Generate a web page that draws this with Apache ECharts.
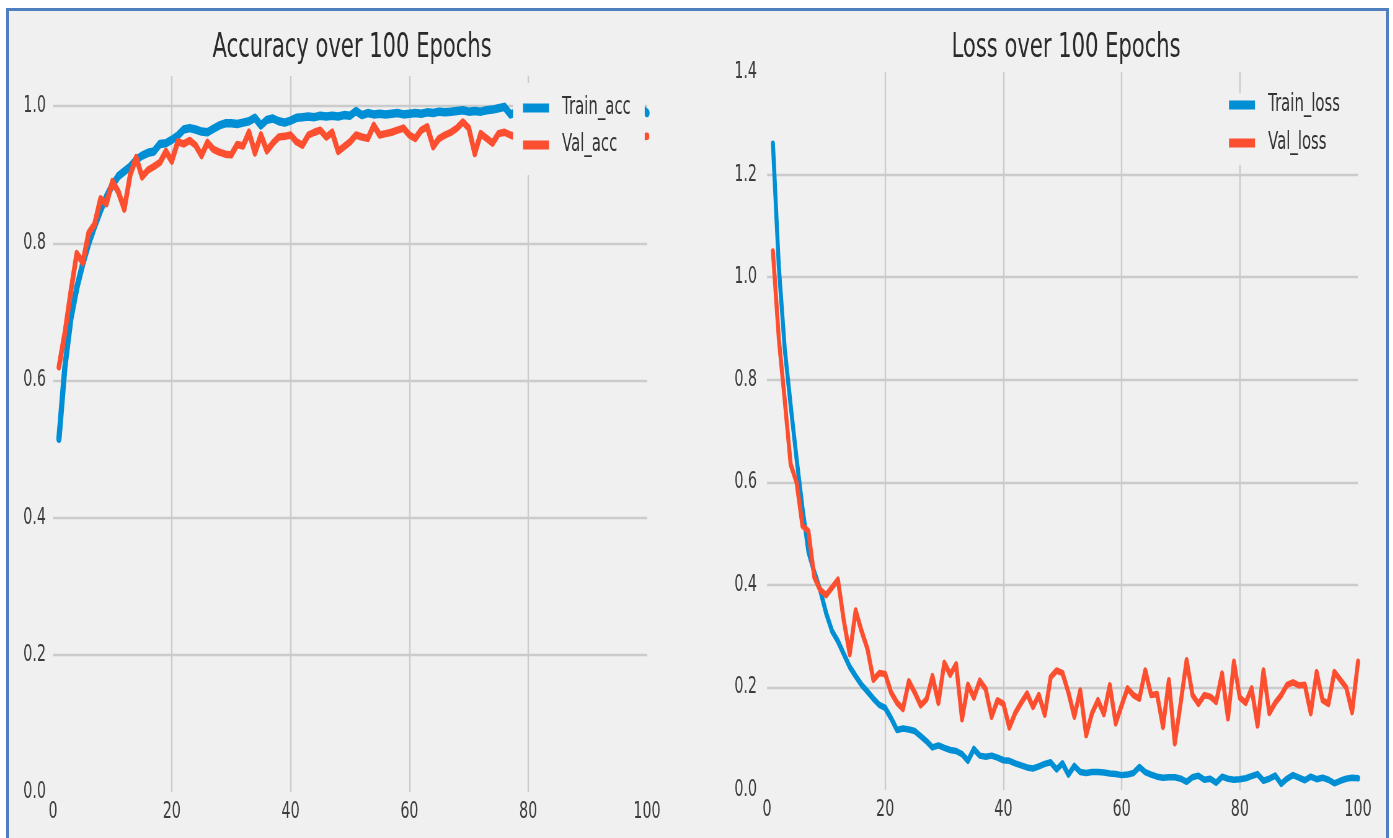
<!DOCTYPE html>
<html>
<head>
<meta charset="utf-8">
<script src="https://cdn.jsdelivr.net/npm/echarts@6/dist/echarts.min.js"></script>
<style>
  html, body { margin: 0; padding: 0; width: 1393px; height: 838px; overflow: hidden; background: #ffffff; }
  #frame { position: absolute; left: 6px; top: 8px; width: 1377px; height: 850px;
           border: 3px solid #4f7fbf; background: #f0f0f0; }
  #chart { position: absolute; left: 0; top: 0; height: 838px; transform-origin: 0 0; }
</style>
</head>
<body>
<div id="frame"></div>
<div id="chart"></div>
<script>
// Training history, one value per epoch (epochs 1..100)
const trainAcc = [
  0.515, 0.62, 0.69, 0.735, 0.77, 0.80, 0.825, 0.848, 0.868, 0.885,
  0.898, 0.905, 0.912, 0.922, 0.928, 0.932, 0.934, 0.945, 0.946, 0.951,
  0.957, 0.966, 0.968, 0.966, 0.963, 0.962, 0.967, 0.972, 0.975, 0.975,
  0.974, 0.976, 0.978, 0.983, 0.972, 0.980, 0.982, 0.978, 0.976, 0.979,
  0.983, 0.984, 0.985, 0.984, 0.986, 0.985, 0.986, 0.985, 0.987, 0.986,
  0.993, 0.987, 0.990, 0.988, 0.989, 0.988, 0.989, 0.990, 0.988, 0.989,
  0.990, 0.989, 0.991, 0.990, 0.992, 0.991, 0.992, 0.993, 0.994, 0.992,
  0.993, 0.992, 0.994, 0.995, 0.997, 0.999, 0.988, 0.991, 0.993, 0.994,
  0.992, 0.995, 0.994, 0.996, 0.993, 0.995, 0.996, 0.994, 0.997, 0.995,
  0.996, 0.997, 0.995, 0.996, 0.998, 0.996, 0.997, 0.995, 0.998, 0.990
];
const valAcc = [
  0.62, 0.67, 0.73, 0.785, 0.772, 0.815, 0.828, 0.865, 0.858, 0.89,
  0.875, 0.85, 0.90, 0.925, 0.897, 0.907, 0.912, 0.918, 0.934, 0.92,
  0.948, 0.945, 0.95, 0.943, 0.928, 0.947, 0.937, 0.933, 0.93, 0.929,
  0.944, 0.942, 0.962, 0.932, 0.958, 0.935, 0.946, 0.955, 0.956, 0.958,
  0.948, 0.943, 0.958, 0.962, 0.965, 0.955, 0.962, 0.934, 0.941, 0.948,
  0.958, 0.955, 0.953, 0.972, 0.958, 0.96, 0.962, 0.965, 0.968, 0.958,
  0.953, 0.965, 0.97, 0.941, 0.953, 0.958, 0.962, 0.968, 0.977, 0.968,
  0.931, 0.96, 0.953, 0.946, 0.96, 0.962, 0.958, 0.955, 0.962, 0.95,
  0.958, 0.965, 0.952, 0.96, 0.948, 0.963, 0.958, 0.966, 0.954, 0.961,
  0.957, 0.95, 0.964, 0.959, 0.962, 0.953, 0.96, 0.958, 0.955, 0.956
];
const trainLoss = [
  1.26, 1.02, 0.86, 0.75, 0.646, 0.55, 0.465, 0.425, 0.39, 0.345,
  0.31, 0.29, 0.265, 0.24, 0.222, 0.205, 0.192, 0.178, 0.166, 0.16,
  0.14, 0.117, 0.12, 0.118, 0.115, 0.105, 0.095, 0.083, 0.087, 0.082,
  0.078, 0.076, 0.07, 0.057, 0.08, 0.067, 0.065, 0.067, 0.063, 0.058,
  0.057, 0.052, 0.048, 0.044, 0.042, 0.046, 0.051, 0.054, 0.04, 0.052,
  0.03, 0.047, 0.035, 0.033, 0.035, 0.035, 0.034, 0.032, 0.031, 0.029,
  0.03, 0.033, 0.045, 0.035, 0.03, 0.026, 0.024, 0.025, 0.025, 0.022,
  0.016, 0.025, 0.028, 0.02, 0.022, 0.014, 0.026, 0.022, 0.02, 0.021,
  0.023, 0.027, 0.031, 0.018, 0.022, 0.028, 0.012, 0.022, 0.029, 0.024,
  0.019, 0.026, 0.021, 0.024, 0.02, 0.013, 0.018, 0.022, 0.024, 0.023
];
const valLoss = [
  1.05, 0.88, 0.76, 0.635, 0.60, 0.515, 0.505, 0.415, 0.39, 0.38,
  0.395, 0.41, 0.33, 0.265, 0.35, 0.31, 0.275, 0.215, 0.228, 0.226,
  0.19, 0.17, 0.158, 0.212, 0.19, 0.165, 0.177, 0.222, 0.17, 0.248,
  0.225, 0.245, 0.138, 0.205, 0.18, 0.213, 0.197, 0.143, 0.175, 0.168,
  0.122, 0.15, 0.17, 0.188, 0.162, 0.185, 0.147, 0.22, 0.233, 0.228,
  0.19, 0.143, 0.194, 0.107, 0.15, 0.175, 0.148, 0.204, 0.13, 0.165,
  0.198, 0.185, 0.178, 0.233, 0.185, 0.187, 0.123, 0.214, 0.091, 0.17,
  0.253, 0.185, 0.168, 0.185, 0.182, 0.172, 0.227, 0.14, 0.25, 0.18,
  0.17, 0.198, 0.126, 0.233, 0.15, 0.17, 0.185, 0.205, 0.21, 0.204,
  0.205, 0.15, 0.23, 0.175, 0.168, 0.23, 0.215, 0.2, 0.152, 0.25
];
const titles = ['Accuracy over 100 Epochs', 'Loss over 100 Epochs'];
const seriesNames = [['Train_acc', 'Val_acc'], ['Train_loss', 'Val_loss']];

// The figure is drawn on a wider canvas and squeezed horizontally (condensed look).
const S = 0.62;
const hx = (px) => px / S;
const W = 1393;
const el = document.getElementById('chart');
el.style.width = hx(W) + 'px';
el.style.transform = 'scaleX(' + S + ')';

const BLUE = '#008fd5';
const RED = '#fc4f30';
const GRID = '#cbcbcb';
const FONT = 'DejaVu Sans';

const withEpoch = (arr) => arr.map((v, i) => [i + 1, v]);

function xAxisFor(gridIndex) {
  return {
    type: 'value', gridIndex, min: 0, max: 100, interval: 20,
    axisLine: { show: false }, axisTick: { show: false },
    axisLabel: { color: '#3c3c3c', fontFamily: FONT, fontSize: 23, margin: 9 },
    splitLine: { show: true, showMinLine: false, showMaxLine: false,
                 lineStyle: { color: GRID, width: 2.4 } }
  };
}
function yAxisFor(gridIndex, max, margin) {
  return {
    type: 'value', gridIndex, min: 0, max, interval: 0.2,
    axisLine: { show: false }, axisTick: { show: false },
    axisLabel: {
      color: '#3c3c3c', fontFamily: FONT, fontSize: 23, margin,
      formatter: (v) => (Math.abs(v * 5 - Math.round(v * 5)) < 1e-6 ? v.toFixed(1) : '')
    },
    splitLine: { show: true, showMinLine: false, showMaxLine: false,
                 lineStyle: { color: GRID, width: 2.4 } }
  };
}
function lineSeries(name, data, color, width, idx) {
  return {
    name, type: 'line', data: withEpoch(data), xAxisIndex: idx, yAxisIndex: idx,
    showSymbol: false, symbol: 'none', smooth: false,
    lineStyle: { color, width, join: 'round', cap: 'round' },
    itemStyle: { color },
    z: 2
  };
}
function legendFor(names, left, top, padding, gap) {
  return {
    data: names, orient: 'vertical', left: hx(left), top,
    icon: 'rect', itemWidth: hx(26), itemHeight: 9, itemGap: gap,
    padding, backgroundColor: '#f0f0f0', z: 10,
    textStyle: { color: '#333333', fontFamily: FONT, fontSize: 24, lineHeight: 24,
                 padding: [0, 0, 0, hx(10)] }
  };
}

const chart = echarts.init(el, null, { renderer: 'canvas' });
chart.setOption({
  animation: false,
  backgroundColor: 'transparent',
  title: [
    { text: titles[0], left: hx(349), top: 26, textAlign: 'center',
      textStyle: { color: '#2a2a2a', fontFamily: FONT, fontSize: 34, fontWeight: 'normal' } },
    { text: titles[1], left: hx(1063), top: 26, textAlign: 'center',
      textStyle: { color: '#2a2a2a', fontFamily: FONT, fontSize: 34, fontWeight: 'normal' } }
  ],
  grid: [
    { left: hx(53), top: 76, width: hx(594), height: 716, containLabel: false },
    { left: hx(767), top: 72, width: hx(591), height: 718, containLabel: false }
  ],
  xAxis: [xAxisFor(0), xAxisFor(1)],
  yAxis: [yAxisFor(0, 1.044, hx(7)), yAxisFor(1, 1.4, hx(10))],
  legend: [
    legendFor(seriesNames[0], 513, 83, [13, hx(14), 18, hx(10)], 13),
    legendFor(seriesNames[1], 1219, 93, [0, hx(8), 10, hx(10)], 14)
  ],
  series: [
    lineSeries(seriesNames[0][0], trainAcc, BLUE, 8.5, 0),
    lineSeries(seriesNames[0][1], valAcc, RED, 7.5, 0),
    lineSeries(seriesNames[1][0], trainLoss, BLUE, 6.5, 1),
    lineSeries(seriesNames[1][1], valLoss, RED, 6.5, 1)
  ]
});
</script>
</body>
</html>
